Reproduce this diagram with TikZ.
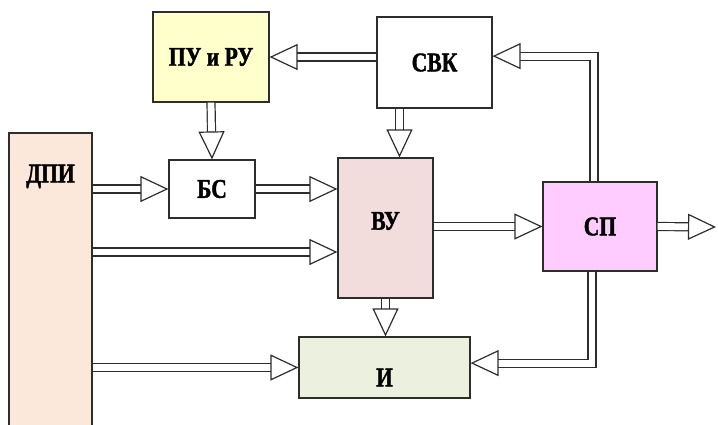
\documentclass[tikz,border=0pt]{standalone}
\usepackage{fontspec}
\setmainfont{Liberation Serif}
\newfontfamily\blockfont[FakeStretch=0.8,FakeBold=1.5]{Liberation Serif}
\usepackage{xcolor}
\usepackage{tikz}
\usetikzlibrary{calc,positioning,arrows.meta}
\definecolor{yellowBg}{RGB}{255,255,204}
\definecolor{peachBg}{RGB}{252,232,218}
\definecolor{roseBg}{RGB}{242,221,220}
\definecolor{pinkBg}{RGB}{255,204,255}
\definecolor{greenBg}{RGB}{235,241,222}
\definecolor{lineGray}{RGB}{45,45,45}
\tikzset{
  blockText/.style={font=\blockfont\bfseries\fontsize{13.5}{13.5}\selectfont},
  blockBox/.style={draw=lineGray, line width=0.6pt, inner sep=0pt, blockText},
  dblArrow/.style={draw=lineGray, line width=0.6pt, double=white,
    double distance=3.4pt, -{Triangle[length=14pt,width=13pt,fill=white]}}
}

\begin{document}
\begin{tikzpicture}[x=0.5pt, y=-0.5pt]
  \useasboundingbox (0,0) rectangle (718,424);
  % Blocks
  \node[blockBox, fill=yellowBg, minimum width=58pt, minimum height=45pt]
    (pu) at (211,57) {ПУ и РУ};
  \node[blockBox, fill=white, minimum width=57.5pt, minimum height=45.5pt]
    (svk) at (434.5,62.5) {СВК};
  \node[blockBox, fill=peachBg, minimum width=41.5pt, minimum height=148.5pt,
    label={[blockText, anchor=center, yshift=-22pt]north:ДПИ}]
    (dpi) at (50.5,281.5) {};
  \node[blockBox, fill=white, minimum width=43pt, minimum height=29pt]
    (bs) at (212,189) {БС};
  \node[blockBox, fill=roseBg, minimum width=47.5pt, minimum height=70pt,
    label={[blockText, anchor=center, yshift=3.5pt]center:ВУ}]
    (vu) at (385.5,228) {};
  \node[blockBox, fill=pinkBg, minimum width=57pt, minimum height=44.5pt]
    (sp) at (600,226.5) {СП};
  \node[blockBox, fill=greenBg, minimum width=85.5pt, minimum height=30.5pt,
    label={[blockText, anchor=center, yshift=-5pt]center:И}]
    (i) at (384.5,367.5) {};
  \coordinate (out) at (716,227);
  % Connections
  \draw[dblArrow] (svk.west |- pu.east) -- (pu.east);
  \draw[dblArrow] (pu.south) -- (bs.north);
  \draw[dblArrow] ([xshift=7pt]vu.north |- svk.south) -- ([xshift=7pt]vu.north);
  \draw[dblArrow] ([xshift=-3pt]sp.north) |- ([yshift=3.2pt]svk.east);
  \draw[dblArrow] (dpi.east |- bs.west) -- (bs.west);
  \draw[dblArrow] (bs.east) -- (vu.west |- bs.east);
  \draw[dblArrow] ([yshift=-12pt]vu.west -| dpi.east) -- ([yshift=-12pt]vu.west);
  \draw[dblArrow] (vu.east |- sp.west) -- (sp.west);
  \draw[dblArrow] (sp.east) -- (out);
  \draw[dblArrow] (vu.south) -- (vu.south |- i.north);
  \draw[dblArrow] (dpi.east |- i.west) -- (i.west);
  \draw[dblArrow] ([xshift=-4pt]sp.south) |- ([yshift=2.2pt]i.east);
\end{tikzpicture}
\end{document}
